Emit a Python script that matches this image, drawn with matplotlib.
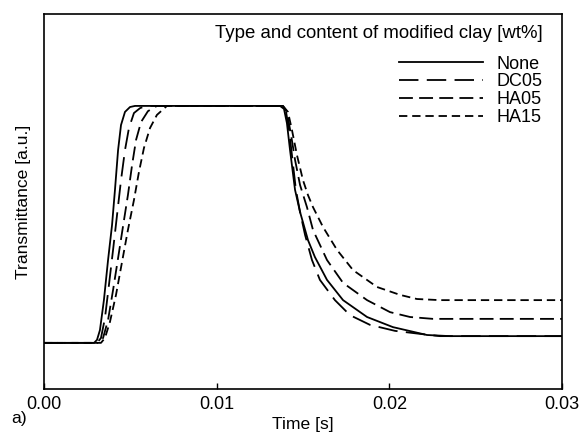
"""
Transmittance vs. time for the clay-modified samples (panel a).
"""

import matplotlib
matplotlib.use("Agg")
import matplotlib.pyplot as plt

plt.rcParams["font.family"] = ["Liberation Sans", "DejaVu Sans"]
plt.rcParams["lines.scale_dashes"] = False

# ── Data ───────────────────────────────────────────────────────────────────

t_none = [0, 0.00290, 0.00307, 0.00324, 0.00347, 0.00371, 0.00394, 0.00411,
          0.00429, 0.00446, 0.00469, 0.00498, 0.00527,
          0.01367, 0.01390, 0.01407, 0.01425, 0.01454, 0.01483, 0.01529,
          0.01569, 0.01639, 0.01732, 0.01871, 0.02021, 0.02218, 0.02351, 0.03]
y_none = [12.3, 12.3, 13.1, 15.7, 23.7, 34.4, 43.7, 53.1,
          63.7, 70.4, 73.9, 75.2, 75.5,
          75.5, 74.7, 70.9, 63.7, 53.1, 47.2, 39.7,
          35.2, 29.1, 23.7, 19.2, 16.5, 14.4, 14.1, 14.1]

t_dc05 = [0, 0.00307, 0.00330, 0.00353, 0.00376, 0.00400, 0.00423, 0.00446,
          0.00469, 0.00492, 0.00521, 0.00556, 0.00591,
          0.01384, 0.01402, 0.01419, 0.01436, 0.01459, 0.01483, 0.01512,
          0.01552, 0.01598, 0.01685, 0.01772, 0.01888, 0.02033, 0.02178,
          0.02293, 0.03]
y_dc05 = [12.3, 12.3, 13.6, 18.9, 27.7, 37.1, 46.4, 55.7,
          63.7, 69.6, 73.6, 74.9, 75.5,
          75.5, 73.9, 69.1, 62.4, 53.1, 47.2, 41.1,
          34.4, 29.1, 23.7, 19.7, 17.1, 15.5, 14.7,
          14.1, 14.1]

t_ha05 = [0, 0.00319, 0.00342, 0.00371, 0.00400, 0.00429, 0.00458, 0.00486,
          0.00510, 0.00533, 0.00562, 0.00602, 0.00654,
          0.01384, 0.01407, 0.01431, 0.01454, 0.01483, 0.01523, 0.01558,
          0.01639, 0.01732, 0.01871, 0.02004, 0.02120, 0.02253, 0.03]
y_ha05 = [12.3, 12.3, 13.6, 18.4, 26.4, 34.9, 43.5, 51.7,
          59.7, 66.4, 71.2, 74.1, 75.5,
          75.5, 73.9, 67.7, 61.1, 54.4, 48.5, 42.4,
          34.4, 28.3, 23.7, 20.5, 19.2, 18.7, 18.7]

t_ha15 = [0, 0.00330, 0.00353, 0.00382, 0.00417, 0.00452, 0.00486, 0.00521,
          0.00550, 0.00579, 0.00614, 0.00654, 0.00712,
          0.01384, 0.01413, 0.01436, 0.01465, 0.01500, 0.01529, 0.01558,
          0.01616, 0.01697, 0.01790, 0.01929, 0.02062, 0.02160, 0.02293, 0.03]
y_ha15 = [12.3, 12.3, 13.6, 17.9, 25.1, 33.9, 42.4, 50.4,
          57.9, 64.3, 69.6, 73.1, 75.5,
          75.5, 73.9, 69.1, 62.4, 55.7, 51.7, 48.5,
          43.2, 37.1, 31.7, 27.2, 25.1, 24.0, 23.7, 23.7]

labels = ["None", "DC05", "HA05", "HA15"]
x_ticks = [0.00, 0.01, 0.02, 0.03]
legend_title = "Type and content of modified clay [wt%]"

# ── Plot ───────────────────────────────────────────────────────────────────

fig = plt.figure(figsize=(5.82, 4.38), dpi=100)
ax = fig.add_axes([0.0756, 0.1119, 0.89, 0.856])

series = [(t_none, y_none), (t_dc05, y_dc05), (t_ha05, y_ha05), (t_ha15, y_ha15)]
styles = [
    dict(linestyle="-"),
    dict(dashes=(14, 6)),
    dict(dashes=(10, 4.5)),
    dict(dashes=(6, 3.5)),
]
for (t, y), lab, st in zip(series, labels, styles):
    ax.plot(t, y, color="black", linewidth=1.3, label=lab, **st)

ax.set_xlim(0, 0.03)
ax.set_ylim(0, 100)
ax.set_xticks(x_ticks)
ax.set_xticklabels([f"{v:.2f}" for v in x_ticks])
ax.set_yticks([])
ax.tick_params(axis="x", direction="in", length=4, width=1, labelsize=13, pad=5)
for s in ax.spines.values():
    s.set_linewidth(1.2)

ax.set_xlabel("Time [s]", fontsize=12.6, labelpad=3)
ax.set_ylabel("Transmittance [a.u.]", fontsize=12.6, labelpad=9)
fig.text(0.019, 0.045, "a)", fontsize=12.6, ha="left", va="center")

# legend: title as separate text so the gap to the entries matches
ax.text(0.9633, 0.949, legend_title, transform=ax.transAxes,
        fontsize=13.4, ha="right", va="center")
ax.legend(loc="upper right", bbox_to_anchor=(0.9633, 0.889),
          frameon=False, fontsize=13, handlelength=4.65,
          handletextpad=0.8, labelspacing=0.04,
          borderaxespad=0, borderpad=0)

fig.savefig("out.png", dpi=100)
